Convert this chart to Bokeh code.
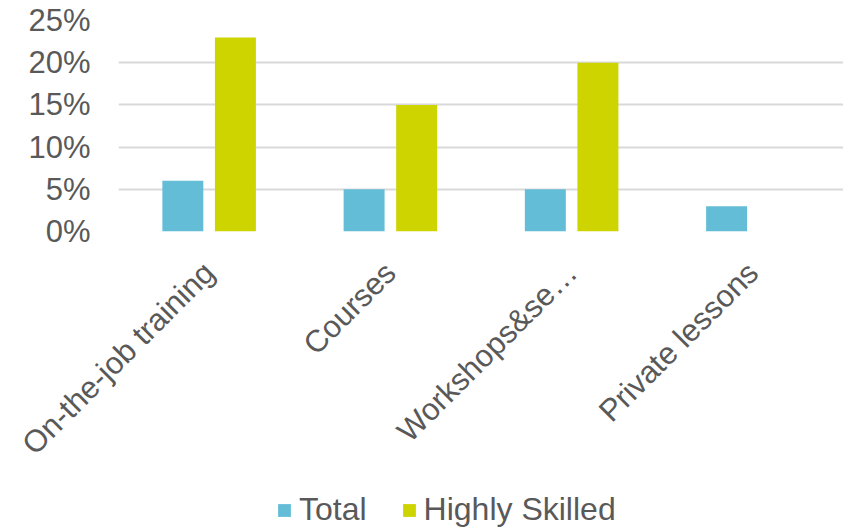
from bokeh.plotting import figure
from bokeh.layouts import column
from bokeh.models import ColumnDataSource, FactorRange, Legend, LegendItem, Range1d, FixedTicker
from bokeh.transform import dodge
from bokeh.embed import file_html
from bokeh.resources import INLINE
import math

categories = ["On-the-job training", "Courses", "Workshops&se\u2026", "Private lessons"]
total = [6, 5, 5, 3]
highly_skilled = [23, 15, 20, 0]
y_ticks = [0, 5, 10, 15, 20, 25]
series_names = ["Total", "Highly Skilled"]
colors = ["#64BDD6", "#CDD400"]

src = ColumnDataSource(data=dict(cat=categories, total=total, hs=highly_skilled))

FONT = "Liberation Sans"
TXT = "#595959"

p = figure(width=843, height=480, x_range=FactorRange(factors=categories, range_padding=0),
           y_range=Range1d(0, 25), output_backend="svg", toolbar_location=None,
           min_border_left=118, min_border_right=0, min_border_top=20, min_border_bottom=249)
p.outline_line_color = None
p.background_fill_color = "white"

r1 = p.vbar(x=dodge("cat", -0.145, range=p.x_range), top="total", width=0.226, source=src,
            fill_color=colors[0], line_color=None)
r2 = p.vbar(x=dodge("cat", 0.145, range=p.x_range), top="hs", width=0.226, source=src,
            fill_color=colors[1], line_color=None)

p.xgrid.grid_line_color = None
p.ygrid.grid_line_color = "#D9D9D9"
p.ygrid.grid_line_width = 2
p.yaxis.ticker = FixedTicker(ticks=y_ticks)
p.yaxis.major_label_overrides = {t: f"{t}%" for t in y_ticks}
p.yaxis.axis_line_color = None
p.yaxis.major_tick_line_color = None
p.yaxis.minor_tick_line_color = None
p.yaxis.major_label_text_font = FONT
p.yaxis.major_label_text_font_size = "31px"
p.yaxis.major_label_text_color = TXT
p.yaxis.major_label_standoff = 22

p.xaxis.axis_line_color = None
p.xaxis.major_tick_line_color = None
p.xaxis.minor_tick_line_color = None
p.xaxis.major_label_orientation = math.pi / 4
p.xaxis.major_label_text_font = FONT
p.xaxis.major_label_text_font_size = "31px"
p.xaxis.major_label_text_color = TXT
p.xaxis.major_label_standoff = 30

# legend strip (same series drawn outside its visible y-range, only to feed the legend)
lg = figure(width=843, height=50, x_range=FactorRange(factors=categories, range_padding=0),
            y_range=Range1d(100, 101),
            output_backend="svg", toolbar_location=None,
            min_border_left=0, min_border_right=0, min_border_top=0, min_border_bottom=0)
lg.axis.visible = False
lg.grid.visible = False
lg.outline_line_color = None
d1 = lg.vbar(x="cat", top="total", width=0.1, source=src, fill_color=colors[0], line_color=None)
d2 = lg.vbar(x="cat", top="hs", width=0.1, source=src, fill_color=colors[1], line_color=None)
legend = Legend(items=[LegendItem(label=series_names[0], renderers=[d1]),
                       LegendItem(label=series_names[1], renderers=[d2])],
                orientation="horizontal", location=(158, 2),
                glyph_width=16, glyph_height=16, label_standoff=7, spacing=34,
                padding=0, margin=0, border_line_color=None, background_fill_alpha=0,
                label_text_font=FONT, label_text_font_size="32px", label_text_color=TXT)
lg.add_layout(legend, "center")

layout = column(p, lg, spacing=0)
open("out.html", "w").write(file_html(layout, INLINE))
